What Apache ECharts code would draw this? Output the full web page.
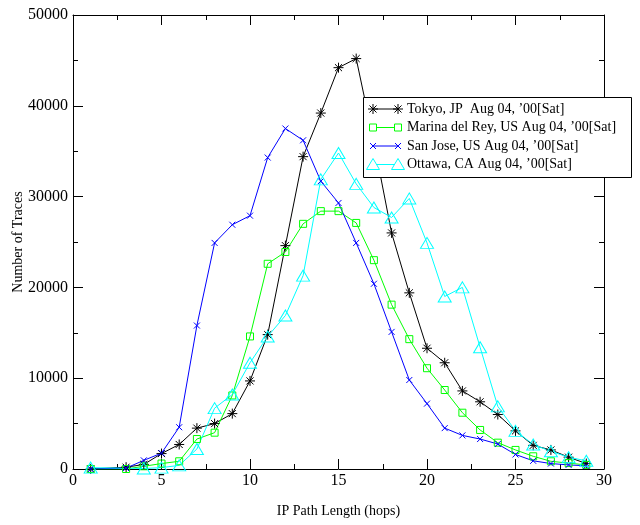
<!DOCTYPE html>
<html>
<head>
<meta charset="utf-8">
<script src="https://cdn.jsdelivr.net/npm/echarts@6/dist/echarts.min.js"></script>
<style>
html,body{margin:0;padding:0;background:#fff}
#chart{width:640px;height:525px}
</style>
</head>
<body>
<div id="chart"></div>
<script>
// Hop counts measured (x) and number of traces per hop count (y)
const hops = [1, 3, 4, 5, 6, 7, 8, 9, 10, 11, 12, 13, 14, 15, 16, 17, 18, 19, 20, 21, 22, 23, 24, 25, 26, 27, 28, 29];

const tokyo   = [0, 200, 500, 1700, 2700, 4500, 5000, 6100, 9700, 14800, 24600, 34400, 39200, 44200, 45200, 36000, 26000, 19400, 13300, 11700, 8600, 7400, 6000, 4200, 2600, 2100, 1300, 600];
const marina  = [0, 0, 300, 600, 850, 3300, 4000, 8100, 14600, 22600, 23900, 27000, 28400, 28400, 27100, 23000, 18100, 14300, 11100, 8700, 6200, 4300, 2900, 2100, 1400, 850, 650, 450];
const sanJose = [0, 100, 950, 1750, 4600, 15800, 24900, 26900, 27900, 34300, 37500, 36200, 31700, 29300, 24900, 20400, 15100, 9800, 7200, 4500, 3700, 3300, 2750, 1600, 900, 600, 450, 350];
const ottawa  = [150, null, 50, 150, 400, 2200, 6700, 8200, 11700, 14600, 16900, 21300, 31900, 34800, 31400, 28800, 27700, 29800, 24900, 19000, 20000, 13400, 6900, 4200, 2700, 1950, 1300, 900];

const seriesNames = [
  "Tokyo, JP  Aug 04, \u201900[Sat]",
  "Marina del Rey, US Aug 04, \u201900[Sat]",
  "San Jose, US Aug 04, \u201900[Sat]",
  "Ottawa, CA Aug 04, \u201900[Sat]"
];

const xTicks = { min: 0, max: 30, interval: 5 };
const yTicks = { min: 0, max: 50000, interval: 10000 };

const BLACK = '#000000', GREEN = '#00ff00', BLUE = '#0000ff', CYAN = '#00ffff';
const STAR = 'path://M0,-10L0,10M-10,0L10,0M-7.07,-7.07L7.07,7.07M-7.07,7.07L7.07,-7.07';
const XMARK = 'path://M-1,-1L1,1M-1,1L1,-1';
const FONT = '"Liberation Serif", "DejaVu Serif", serif';

function pairs(vals) {
  return hops.map((h, i) => [h, vals[i]]).filter(p => p[1] !== null);
}

function lineSeries(name, vals, color, symbol, size, fill) {
  return {
    type: 'line',
    name: name,
    data: pairs(vals),
    xAxisIndex: 0,
    yAxisIndex: 0,
    symbol: symbol,
    symbolSize: size,
    showAllSymbol: true,
    connectNulls: true,
    lineStyle: { color: color, width: 1 },
    itemStyle: { color: fill, borderColor: color, borderWidth: 1 },
    emphasis: { disabled: true },
    animation: false
  };
}

// Legend box drawn on top of the plot
const legendRows = [
  { y: 109, color: BLACK, kind: 'star' },
  { y: 127.5, color: GREEN, kind: 'square' },
  { y: 146, color: BLUE, kind: 'x' },
  { y: 164.5, color: CYAN, kind: 'tri' }
];
const LX0 = 373, LX1 = 398, TX = 407;

function markerShapes(kind, cx, cy, color) {
  const st = { stroke: color, lineWidth: 1, fill: 'none' };
  const out = [];
  if (kind === 'star') {
    const r = 5, d = 3.54;
    [[0, -r, 0, r], [-r, 0, r, 0], [-d, -d, d, d], [-d, d, d, -d]].forEach(s => {
      out.push({ type: 'line', shape: { x1: cx + s[0], y1: cy + s[1], x2: cx + s[2], y2: cy + s[3] }, style: st });
    });
  } else if (kind === 'x') {
    const r = 3;
    out.push({ type: 'line', shape: { x1: cx - r, y1: cy - r, x2: cx + r, y2: cy + r }, style: st });
    out.push({ type: 'line', shape: { x1: cx - r, y1: cy + r, x2: cx + r, y2: cy - r }, style: st });
  } else if (kind === 'square') {
    out.push({ type: 'rect', shape: { x: cx - 3.5, y: cy - 3.5, width: 7, height: 7 }, style: { stroke: color, lineWidth: 1, fill: '#fff' } });
  } else {
    out.push({ type: 'polygon', shape: { points: [[cx, cy - 6], [cx + 6.5, cy + 5], [cx - 6.5, cy + 5]] }, style: { stroke: color, lineWidth: 1, fill: '#fff' } });
  }
  return out;
}

const legendGraphics = [
  { type: 'rect', shape: { x: 363.5, y: 97.5, width: 268, height: 80 }, style: { fill: '#fff', stroke: '#000', lineWidth: 1 } }
];
legendRows.forEach((row, i) => {
  legendGraphics.push({ type: 'line', shape: { x1: LX0, y1: row.y, x2: LX1, y2: row.y }, style: { stroke: row.color, lineWidth: 1 } });
  markerShapes(row.kind, LX0, row.y, row.color).forEach(g => legendGraphics.push(g));
  markerShapes(row.kind, LX1, row.y, row.color).forEach(g => legendGraphics.push(g));
  legendGraphics.push({
    type: 'text',
    style: { x: TX, y: row.y, text: seriesNames[i], font: '14px ' + FONT, fill: '#000', verticalAlign: 'middle' }
  });
});

const axisCommon = {
  axisLine: { show: true, onZero: false, lineStyle: { color: '#000', width: 1 } },
  axisTick: { show: true, inside: true, length: 10, lineStyle: { color: '#000', width: 1 } },
  minorTick: { show: true, splitNumber: 2, length: 5, lineStyle: { color: '#000', width: 1 } },
  splitLine: { show: false },
  minorSplitLine: { show: false }
};

const plain = v => String(v);

const option = {
  backgroundColor: '#fff',
  animation: false,
  grid: { left: 73, right: 36, top: 15, bottom: 56, containLabel: false, outerBoundsMode: 'none' },
  xAxis: [
    Object.assign({}, axisCommon, {
      type: 'value', position: 'bottom',
      min: xTicks.min, max: xTicks.max, interval: xTicks.interval,
      axisLabel: { color: '#000', fontFamily: FONT, fontSize: 16, margin: 4, formatter: plain },
      name: 'IP Path Length (hops)', nameLocation: 'middle', nameGap: 35, nameMoveOverlap: false,
      nameTextStyle: { color: '#000', fontFamily: FONT, fontSize: 14 }
    }),
    Object.assign({}, axisCommon, {
      type: 'value', position: 'top',
      min: xTicks.min, max: xTicks.max, interval: xTicks.interval,
      axisLabel: { show: false }
    })
  ],
  yAxis: [
    Object.assign({}, axisCommon, {
      type: 'value', position: 'left',
      min: yTicks.min, max: yTicks.max, interval: yTicks.interval,
      axisLabel: { color: '#000', fontFamily: FONT, fontSize: 16, margin: 5, formatter: plain },
      name: 'Number of Traces', nameLocation: 'middle', nameGap: 48, nameRotate: 90, nameMoveOverlap: false,
      nameTextStyle: { color: '#000', fontFamily: FONT, fontSize: 14 }
    }),
    Object.assign({}, axisCommon, {
      type: 'value', position: 'right',
      min: yTicks.min, max: yTicks.max, interval: yTicks.interval,
      axisLabel: { show: false }
    })
  ],
  series: [
    lineSeries(seriesNames[0], tokyo, BLACK, STAR, 10, BLACK),
    lineSeries(seriesNames[1], marina, GREEN, 'rect', 7, 'rgba(0,0,0,0)'),
    lineSeries(seriesNames[2], sanJose, BLUE, XMARK, 6, BLUE),
    lineSeries(seriesNames[3], ottawa, CYAN, 'triangle', [13, 11], 'rgba(0,0,0,0)')
  ],
  graphic: legendGraphics.map(g => Object.assign({ z: 100, silent: true }, g))
};

const chart = echarts.init(document.getElementById('chart'), null, { renderer: 'canvas' });
chart.setOption(option);
</script>
</body>
</html>
